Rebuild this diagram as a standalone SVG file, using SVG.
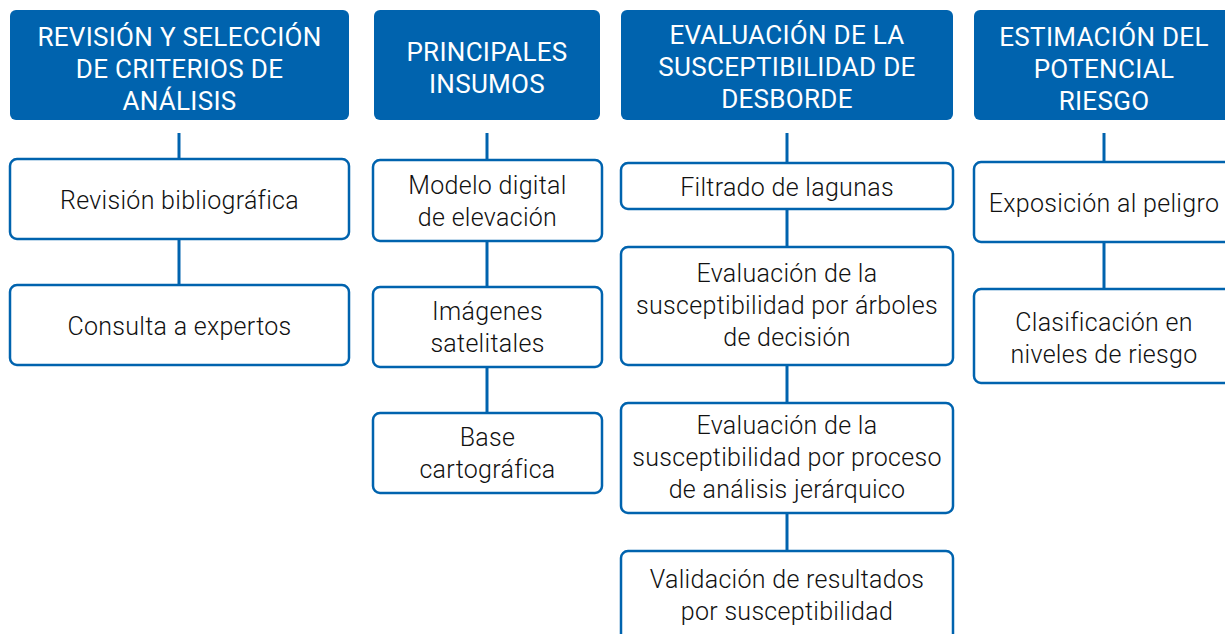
<svg xmlns="http://www.w3.org/2000/svg" width="1225" height="634" viewBox="0 0 1225 634">
<style>
.hd{fill:#0063ae;}
.bx{fill:#fff;stroke:#0063ae;stroke-width:2.5;}
.ht{font-family:Roboto,"Liberation Sans",sans-serif;font-size:26px;letter-spacing:0.3px;fill:#fff;text-anchor:middle;dominant-baseline:central;}
.bt{font-family:Roboto,"Liberation Sans",sans-serif;font-size:25px;letter-spacing:0.3px;font-weight:300;fill:#111;text-anchor:middle;dominant-baseline:central;}
.ln{stroke:#0063ae;stroke-width:3;fill:none;}
</style>
<rect width="1225" height="634" fill="#fff"/>
<g id="connectors">
<line class="ln" x1="179" y1="133" x2="179" y2="159"/>
<line class="ln" x1="179" y1="239" x2="179" y2="285"/>
<line class="ln" x1="487" y1="133" x2="487" y2="160"/>
<line class="ln" x1="487" y1="241" x2="487" y2="287"/>
<line class="ln" x1="487" y1="367" x2="487" y2="413"/>
<line class="ln" x1="787" y1="133" x2="787" y2="163"/>
<line class="ln" x1="787" y1="209" x2="787" y2="247"/>
<line class="ln" x1="787" y1="365" x2="787" y2="403"/>
<line class="ln" x1="787" y1="513" x2="787" y2="551"/>
<line class="ln" x1="1104" y1="133" x2="1104" y2="162"/>
<line class="ln" x1="1104" y1="242" x2="1104" y2="289"/>
</g>
<g id="h1"><rect class="hd" x="10" y="10" width="339" height="110" rx="6"/>
<text class="ht" x="179.5" y="37">REVISIÓN Y SELECCIÓN</text><text class="ht" x="179.5" y="69">DE CRITERIOS DE</text><text class="ht" x="179.5" y="101">ANÁLISIS</text></g>
<g id="h2"><rect class="hd" x="374" y="10" width="226" height="110" rx="6"/>
<text class="ht" x="487" y="52">PRINCIPALES</text><text class="ht" x="487" y="84">INSUMOS</text></g>
<g id="h3"><rect class="hd" x="621" y="10" width="332" height="110" rx="6"/>
<text class="ht" x="787" y="35">EVALUACIÓN DE LA</text><text class="ht" x="787" y="67">SUSCEPTIBILIDAD DE</text><text class="ht" x="787" y="99">DESBORDE</text></g>
<g id="h4"><rect class="hd" x="974" y="10" width="262" height="110" rx="6"/>
<text class="ht" x="1104" y="37">ESTIMACIÓN DEL</text><text class="ht" x="1104" y="69">POTENCIAL</text><text class="ht" x="1104" y="101">RIESGO</text></g>
<g id="b11"><rect class="bx" x="10" y="159" width="339" height="80" rx="7"/><text class="bt" x="179.5" y="200">Revisión bibliográfica</text></g>
<g id="b12"><rect class="bx" x="10" y="285" width="339" height="80" rx="7"/><text class="bt" x="179.5" y="326">Consulta a expertos</text></g>
<g id="b21"><rect class="bx" x="373" y="160" width="229" height="81" rx="7"/><text class="bt" x="487.5" y="185">Modelo digital</text><text class="bt" x="487.5" y="217">de elevación</text></g>
<g id="b22"><rect class="bx" x="373" y="287" width="229" height="80" rx="7"/><text class="bt" x="487.5" y="311">Imágenes</text><text class="bt" x="487.5" y="343">satelitales</text></g>
<g id="b23"><rect class="bx" x="373" y="413" width="229" height="80" rx="7"/><text class="bt" x="487.5" y="437">Base</text><text class="bt" x="487.5" y="469">cartográfica</text></g>
<g id="b31"><rect class="bx" x="621" y="163" width="332" height="46" rx="7"/><text class="bt" x="787" y="187">Filtrado de lagunas</text></g>
<g id="b32"><rect class="bx" x="621" y="247" width="332" height="118" rx="7"/><text class="bt" x="787" y="273">Evaluación de la</text><text class="bt" x="787" y="305">susceptibilidad por árboles</text><text class="bt" x="787" y="337">de decisión</text></g>
<g id="b33"><rect class="bx" x="621" y="403" width="332" height="110" rx="7"/><text class="bt" x="787" y="425">Evaluación de la</text><text class="bt" x="787" y="457">susceptibilidad por proceso</text><text class="bt" x="787" y="489">de análisis jerárquico</text></g>
<g id="b34"><rect class="bx" x="621" y="551" width="332" height="100" rx="7"/><text class="bt" x="787" y="579">Validación de resultados</text><text class="bt" x="787" y="611">por susceptibilidad</text></g>
<g id="b41"><rect class="bx" x="974" y="162" width="262" height="80" rx="7"/><text class="bt" x="1104" y="203">Exposición al peligro</text></g>
<g id="b42"><rect class="bx" x="974" y="289" width="262" height="94" rx="7"/><text class="bt" x="1104" y="322">Clasificación en</text><text class="bt" x="1104" y="354">niveles de riesgo</text></g>
</svg>
